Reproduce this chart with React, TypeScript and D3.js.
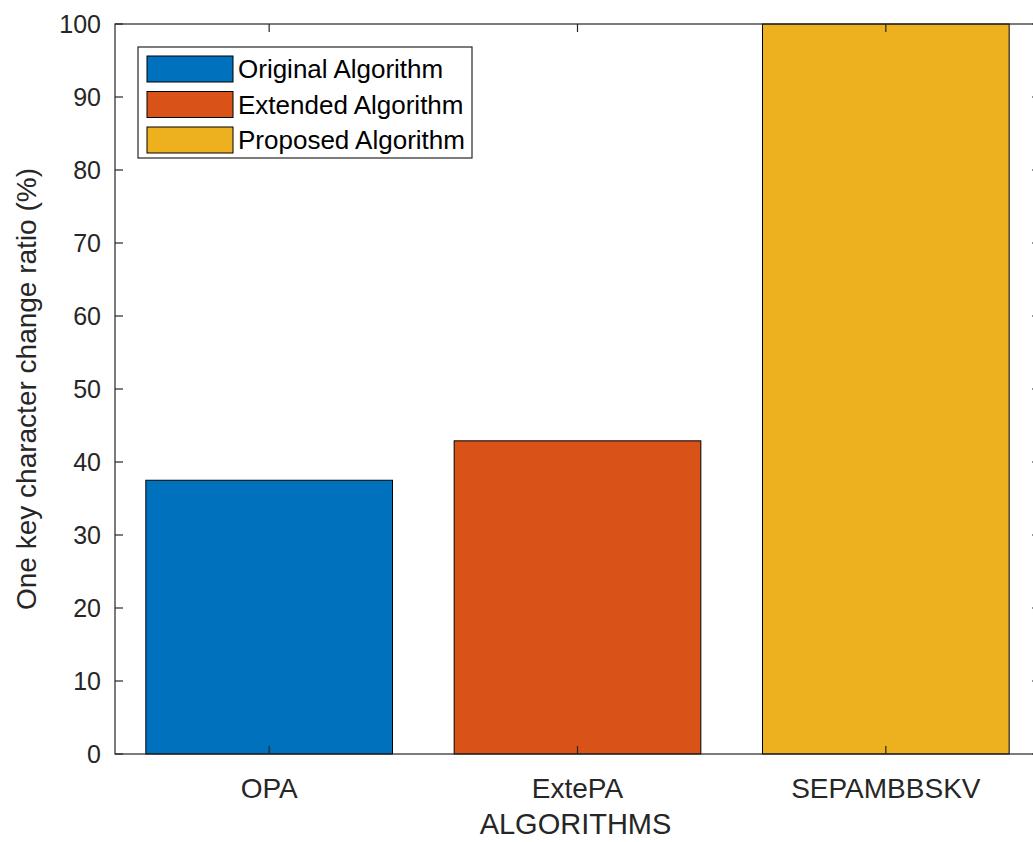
import React from "react";
import * as d3 from "d3";

const categories = ["OPA", "ExtePA", "SEPAMBBSKV"];
const values = [37.5, 42.9, 100];
const seriesNames = ["Original Algorithm", "Extended Algorithm", "Proposed Algorithm"];
const colors = ["#0072BD", "#D95319", "#EDB120"];
const yTicks = [0, 10, 20, 30, 40, 50, 60, 70, 80, 90, 100];

const W = 1033;
const H = 842;
const left = 115;
const right = 1040;
const top = 24;
const bottom = 754;
const axisColor = "#262626";
const font = "'Liberation Sans', Arial, Helvetica, sans-serif";

export default function App() {
  const x = d3.scaleLinear().domain([0.5, 3.5]).range([left, right]);
  const y = d3.scaleLinear().domain([0, 100]).range([bottom, top]);
  const barW = 0.8;
  const tickLen = 8;

  return (
    <svg
      width={W}
      height={H}
      style={{ position: "absolute", left: 0, top: 0, background: "#fff" }}
      fontFamily={font}
    >
      <rect x={0} y={0} width={W} height={H} fill="#fff" />
      {values.map((v, i) => (
        <rect
          key={i}
          x={x(i + 1 - barW / 2)}
          y={y(v)}
          width={x(i + 1 + barW / 2) - x(i + 1 - barW / 2)}
          height={y(0) - y(v)}
          fill={colors[i]}
          stroke="#000"
          strokeWidth={1}
        />
      ))}
      <rect x={left} y={top} width={right - left} height={bottom - top} fill="none" stroke={axisColor} strokeWidth={1.2} />
      {yTicks.map((t) => (
        <g key={t}>
          <line x1={left} x2={left + tickLen} y1={y(t)} y2={y(t)} stroke={axisColor} strokeWidth={1.2} />
          <line x1={right} x2={right - tickLen} y1={y(t)} y2={y(t)} stroke={axisColor} strokeWidth={1.2} />
          <text x={left - 14} y={y(t)} dy="0.35em" textAnchor="end" fontSize={25} fill={axisColor}>
            {t}
          </text>
        </g>
      ))}
      {categories.map((c, i) => (
        <g key={c}>
          <line x1={x(i + 1)} x2={x(i + 1)} y1={bottom} y2={bottom - tickLen} stroke={axisColor} strokeWidth={1.2} />
          <line x1={x(i + 1)} x2={x(i + 1)} y1={top} y2={top + tickLen} stroke={axisColor} strokeWidth={1.2} />
          <text x={x(i + 1)} y={bottom + 44} textAnchor="middle" fontSize={28} fill={axisColor}>
            {c}
          </text>
        </g>
      ))}
      <text x={(left + right) / 2 - 2} y={834} textAnchor="middle" fontSize={29} fill={axisColor}>
        ALGORITHMS
      </text>
      <text
        transform={`translate(36, ${(top + bottom) / 2}) rotate(-90)`}
        textAnchor="middle"
        fontSize={28}
        fill={axisColor}
      >
        One key character change ratio (%)
      </text>
      <g>
        <rect x={138} y={47} width={334} height={111} fill="#fff" stroke={axisColor} strokeWidth={1.2} />
        {seriesNames.map((s, i) => (
          <g key={s}>
            <rect x={147} y={56 + i * 35.5} width={86} height={26} fill={colors[i]} stroke="#000" strokeWidth={1} />
            <text x={238} y={69 + i * 35.5} dy="0.35em" fontSize={26} fill="#000">
              {s}
            </text>
          </g>
        ))}
      </g>
    </svg>
  );
}
